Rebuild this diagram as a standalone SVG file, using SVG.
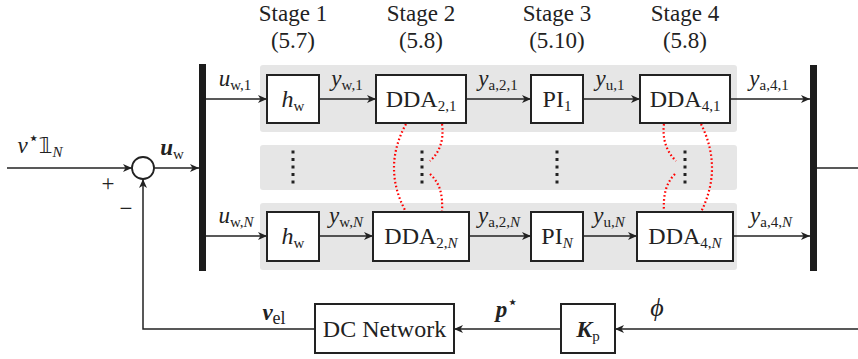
<svg xmlns="http://www.w3.org/2000/svg" width="858" height="359" viewBox="0 0 858 359">
  <style>
    .band { fill: #e6e6e6; }
    .bar { fill: #1c1c1c; }
    .box { fill: #ffffff; stroke: #222222; stroke-width: 2; }
    .wire { fill: none; stroke: #222222; stroke-width: 1.5; }
    .arrow { marker-end: url(#head); }
    .link { fill: none; stroke: #ff0000; stroke-width: 2.2; stroke-dasharray: 1.6 2.4; }
    .vdots { stroke: #222222; stroke-width: 3; stroke-dasharray: 2.8 4.7; }
    text { font-family: "Liberation Serif", "DejaVu Serif", serif; fill: #222222; }
    .stage { font-size: 23px; text-anchor: middle; }
    .name { font-size: 24px; text-anchor: middle; }
    .math { font-size: 23px; text-anchor: middle; font-style: italic; }
    .rm { font-style: normal; }
    .it { font-style: italic; }
    .bf { font-weight: bold; font-style: italic; }
    .sub { font-size: 15px; }
    .star { font-size: 18px; font-style: normal; }
  </style>
  <defs>
    <marker id="head" markerUnits="userSpaceOnUse" markerWidth="12" markerHeight="10" refX="9" refY="4" orient="auto">
      <path d="M0,0 L9,4 L0,8 L2.5,4 Z" fill="#222222"/>
    </marker>
  </defs>

  <!-- stage headings -->
  <g id="stage-labels">
    <text class="stage" x="293" y="21">Stage 1</text>
    <text class="stage" x="293" y="48">(5.7)</text>
    <text class="stage" x="421" y="21">Stage 2</text>
    <text class="stage" x="421" y="48">(5.8)</text>
    <text class="stage" x="557" y="21">Stage 3</text>
    <text class="stage" x="557" y="48">(5.10)</text>
    <text class="stage" x="685" y="21">Stage 4</text>
    <text class="stage" x="685" y="48">(5.8)</text>
  </g>

  <!-- grey channel bands -->
  <g id="bands">
    <rect class="band" x="260" y="65" width="477" height="67" rx="3"/>
    <rect class="band" x="260" y="145" width="477" height="45" rx="3"/>
    <rect class="band" x="260" y="203" width="477" height="67" rx="3"/>
  </g>

  <!-- connectors -->
  <g id="connectors">
    <line class="wire arrow" x1="7" y1="168" x2="132" y2="168"/>
    <line class="wire arrow" x1="154" y1="168" x2="199" y2="168"/>
    <line class="wire" x1="817" y1="168" x2="858" y2="168"/>
    <!-- channel 1 -->
    <line class="wire arrow" x1="206" y1="99" x2="267" y2="99"/>
    <line class="wire arrow" x1="319" y1="99" x2="376" y2="99"/>
    <line class="wire arrow" x1="466" y1="99" x2="531" y2="99"/>
    <line class="wire arrow" x1="583" y1="99" x2="640" y2="99"/>
    <line class="wire arrow" x1="730" y1="99" x2="810" y2="99"/>
    <!-- channel N -->
    <line class="wire arrow" x1="206" y1="236" x2="267" y2="236"/>
    <line class="wire arrow" x1="319" y1="236" x2="373" y2="236"/>
    <line class="wire arrow" x1="469" y1="236" x2="531" y2="236"/>
    <line class="wire arrow" x1="583" y1="236" x2="637" y2="236"/>
    <line class="wire arrow" x1="733" y1="236" x2="810" y2="236"/>
    <!-- feedback path -->
    <line class="wire arrow" x1="858" y1="329" x2="615" y2="329"/>
    <line class="wire arrow" x1="561" y1="329" x2="454" y2="329"/>
    <polyline class="wire arrow" points="315,329 143,329 143,179"/>
    <!-- coupling between DDA stages -->
    <path class="link" d="M406,124 Q382,168 406,212"/>
    <path class="link" d="M442,124 C444,140 440,152 430,161"/>
    <path class="link" d="M430,174 C440,183 443,195 442,212"/>
    <path class="link" d="M664,124 C662,140 667,152 676,161"/>
    <path class="link" d="M675,174 C666,183 663,195 664,212"/>
    <path class="link" d="M701,124 Q723,168 701,212"/>
  </g>

  <!-- vertical ellipses -->
  <g id="ellipses">
    <line class="vdots" x1="293" y1="150.6" x2="293" y2="184"/>
    <line class="vdots" x1="422" y1="150.6" x2="422" y2="184"/>
    <line class="vdots" x1="557" y1="150.6" x2="557" y2="184"/>
    <line class="vdots" x1="685" y1="150.6" x2="685" y2="184"/>
  </g>

  <!-- mux / demux bars -->
  <g id="mux-in"><rect class="bar" x="199" y="64" width="7" height="207"/></g>
  <g id="mux-out"><rect class="bar" x="810" y="65" width="7" height="206"/></g>

  <!-- summing junction -->
  <g id="sum">
    <circle cx="143" cy="168" r="11" fill="#ffffff" stroke="#222222" stroke-width="1.8"/>
    <text x="108" y="191" style="font-size:23px" text-anchor="middle">+</text>
    <text x="126" y="216" style="font-size:23px" text-anchor="middle">−</text>
  </g>

  <!-- channel 1 blocks -->
  <g id="hw-1">
    <rect class="box" x="267" y="75" width="52" height="48"/>
    <text class="name" x="293" y="107"><tspan class="it">h</tspan><tspan class="sub" dy="4">w</tspan></text>
  </g>
  <g id="dda-2-1">
    <rect class="box" x="376" y="75" width="90" height="48"/>
    <text class="name" x="421" y="107">DDA<tspan class="sub" dy="4">2,1</tspan></text>
  </g>
  <g id="pi-1">
    <rect class="box" x="531" y="75" width="52" height="48"/>
    <text class="name" x="557" y="107">PI<tspan class="sub" dy="4">1</tspan></text>
  </g>
  <g id="dda-4-1">
    <rect class="box" x="640" y="75" width="90" height="48"/>
    <text class="name" x="685" y="107">DDA<tspan class="sub" dy="4">4,1</tspan></text>
  </g>

  <!-- channel N blocks -->
  <g id="hw-N">
    <rect class="box" x="267" y="212" width="52" height="49"/>
    <text class="name" x="293" y="244"><tspan class="it">h</tspan><tspan class="sub" dy="4">w</tspan></text>
  </g>
  <g id="dda-2-N">
    <rect class="box" x="373" y="212" width="96" height="49"/>
    <text class="name" x="421" y="244">DDA<tspan class="sub" dy="4">2,<tspan class="it">N</tspan></tspan></text>
  </g>
  <g id="pi-N">
    <rect class="box" x="531" y="212" width="52" height="49"/>
    <text class="name" x="557" y="244">PI<tspan class="sub it" dy="4">N</tspan></text>
  </g>
  <g id="dda-4-N">
    <rect class="box" x="637" y="212" width="96" height="49"/>
    <text class="name" x="685" y="244">DDA<tspan class="sub" dy="4">4,<tspan class="it">N</tspan></tspan></text>
  </g>

  <!-- plant blocks -->
  <g id="dc-network">
    <rect class="box" x="315" y="304" width="139" height="49"/>
    <text class="name" x="384.5" y="337">DC Network</text>
  </g>
  <g id="kp">
    <rect class="box" x="561" y="304" width="54" height="49"/>
    <text class="name" x="588" y="337"><tspan class="bf">K</tspan><tspan class="sub" dy="4">p</tspan></text>
  </g>

  <!-- signal labels -->
  <g id="signal-labels">
    <text class="math" x="40" y="153">v<tspan class="star" dy="-9">⋆</tspan><tspan class="rm" dy="9" font-family="DejaVu Sans" font-size="22">𝟙</tspan><tspan class="sub" dy="4">N</tspan></text>
    <text class="math" x="172" y="155"><tspan class="bf">u</tspan><tspan class="sub rm" dy="4">w</tspan></text>

    <text class="math" x="235" y="86">u<tspan class="sub rm" dy="4">w,1</tspan></text>
    <text class="math" x="347" y="86">y<tspan class="sub rm" dy="4">w,1</tspan></text>
    <text class="math" x="498" y="86">y<tspan class="sub rm" dy="4">a,2,1</tspan></text>
    <text class="math" x="610" y="86">y<tspan class="sub rm" dy="4">u,1</tspan></text>
    <text class="math" x="769" y="86">y<tspan class="sub rm" dy="4">a,4,1</tspan></text>

    <text class="math" x="236" y="223">u<tspan class="sub" dy="4"><tspan class="rm">w,</tspan>N</tspan></text>
    <text class="math" x="346" y="223">y<tspan class="sub" dy="4"><tspan class="rm">w,</tspan>N</tspan></text>
    <text class="math" x="499" y="223">y<tspan class="sub" dy="4"><tspan class="rm">a,2,</tspan>N</tspan></text>
    <text class="math" x="609" y="223">y<tspan class="sub" dy="4"><tspan class="rm">u,</tspan>N</tspan></text>
    <text class="math" x="771" y="223">y<tspan class="sub" dy="4"><tspan class="rm">a,4,</tspan>N</tspan></text>

    <text class="math" x="274" y="320"><tspan class="bf">v</tspan><tspan class="rm" dy="4" style="font-size:18px">el</tspan></text>
    <text class="math" x="507" y="317"><tspan class="bf">p</tspan><tspan class="star" dy="-9">⋆</tspan></text>
    <text class="math" x="657" y="316" style="font-size:26px">ϕ</text>
  </g>
</svg>
